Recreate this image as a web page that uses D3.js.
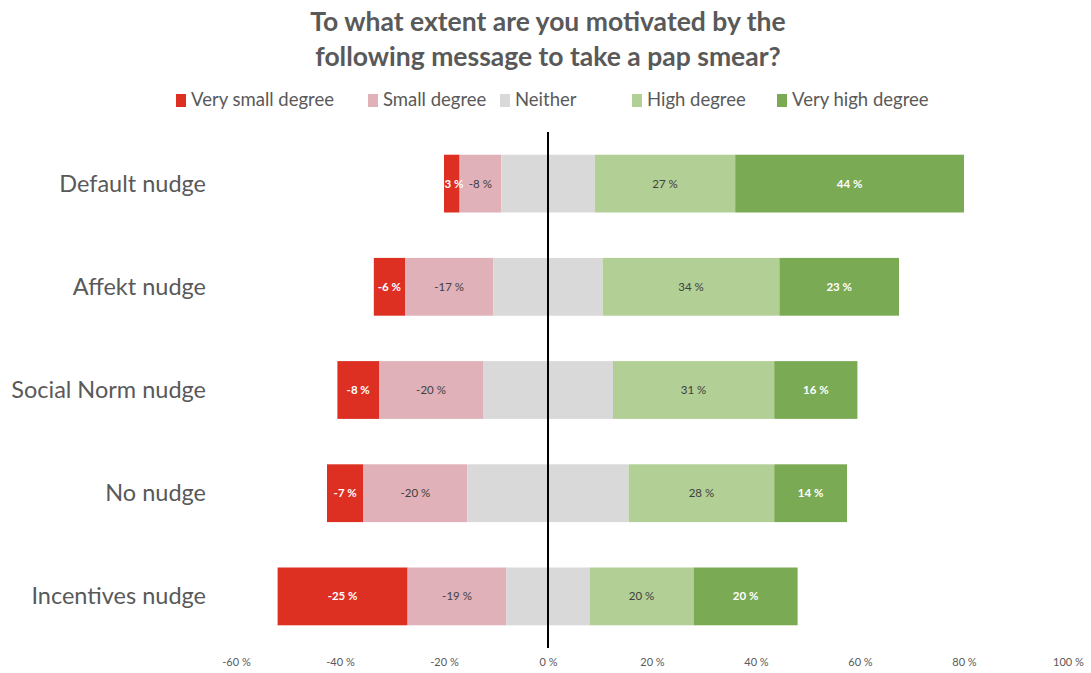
<!DOCTYPE html>
<html>
<head>
<meta charset="utf-8">
<script src="https://cdn.jsdelivr.net/npm/d3@7"></script>
<style>
  body { margin: 0; background: #fff; }
  svg { display: block; font-family: Lato, "Open Sans", sans-serif; }
</style>
</head>
<body>
<svg id="chart" width="1091" height="673"></svg>
<script>
const categories = ["Default nudge", "Affekt nudge", "Social Norm nudge", "No nudge", "Incentives nudge"];
const seriesNames = ["Very small degree", "Small degree", "Neither", "High degree", "Very high degree"];
const verySmall = [3, 6, 8, 7, 25];
const small = [8, 17, 20, 20, 19];
const neither = [18, 21, 25, 31, 16];
const high = [27, 34, 31, 28, 20];
const veryHigh = [44, 23, 16, 14, 20];
const tickValues = [-60, -40, -20, 0, 20, 40, 60, 80, 100];
const colors = ["#DE2F23", "#E0B1B8", "#D9D9D9", "#B2CF95", "#7BAA54"];
const labelColors = ["#ffffff", "#404040", null, "#404040", "#ffffff"];

const svg = d3.select("#chart");
const x = d3.scaleLinear().domain([-60, 100]).range([236, 1068]);
const y = d3.scaleBand().domain(categories).range([132, 648]).paddingInner(0.44).paddingOuter(0.22);

// Title
const title = svg.append("text").attr("x", 548).attr("text-anchor", "middle")
  .attr("font-size", 26.5).attr("font-weight", "bold").attr("fill", "#595959");
title.append("tspan").attr("x", 548).attr("y", 31).text("To what extent are you motivated by the");
title.append("tspan").attr("x", 548).attr("y", 66).text("following message to take a pap smear?");

// Legend
const legendX = [176, 368, 500, 632, 777];
const lg = svg.append("g");
seriesNames.forEach((n, i) => {
  lg.append("rect").attr("x", legendX[i]).attr("y", 94).attr("width", 10).attr("height", 13).attr("fill", colors[i]);
  lg.append("text").attr("x", legendX[i] + 15).attr("y", 106).attr("font-size", 18.5).attr("fill", "#595959").text(n);
});

// Build segments
const rows = categories.map((c, i) => {
  const vals = [verySmall[i], small[i], neither[i], high[i], veryHigh[i]];
  let start = -(vals[0] + vals[1] + vals[2] / 2);
  return vals.map((v, k) => {
    const seg = { cat: c, k, v, x0: start, x1: start + v };
    start += v;
    return seg;
  });
});
const segs = rows.flat();

svg.append("g").selectAll("rect").data(segs).join("rect")
  .attr("x", d => x(d.x0))
  .attr("width", d => x(d.x1) - x(d.x0))
  .attr("y", d => y(d.cat))
  .attr("height", y.bandwidth())
  .attr("fill", d => colors[d.k]);

// Data labels
svg.append("g").selectAll("text").data(segs.filter(d => d.k !== 2)).join("text")
  .attr("x", d => x((d.x0 + d.x1) / 2))
  .attr("y", d => y(d.cat) + y.bandwidth() / 2 + 4)
  .attr("text-anchor", "middle")
  .attr("font-size", 11.5)
  .attr("font-weight", d => (d.k === 0 || d.k === 4) ? "bold" : "normal")
  .attr("fill", d => labelColors[d.k])
  .text(d => (d.k < 2 ? "-" : "") + d.v + " %");

// Zero line
svg.append("line").attr("x1", x(0)).attr("x2", x(0)).attr("y1", 132).attr("y2", 648)
  .attr("stroke", "#000").attr("stroke-width", 2);

// Category labels
svg.append("g").selectAll("text").data(categories).join("text")
  .attr("x", 206).attr("y", d => y(d) + y.bandwidth() / 2 + 8)
  .attr("text-anchor", "end").attr("font-size", 23.5).attr("fill", "#595959")
  .text(d => d);

// X axis
const ax = svg.append("g").attr("transform", "translate(0,652)")
  .call(d3.axisBottom(x).tickValues(tickValues).tickSize(0).tickPadding(6).tickFormat(d => d + " %"));
ax.select(".domain").remove();
ax.selectAll("text").attr("font-size", 11).attr("fill", "#595959").attr("font-family", "Lato, sans-serif");
</script>
</body>
</html>
